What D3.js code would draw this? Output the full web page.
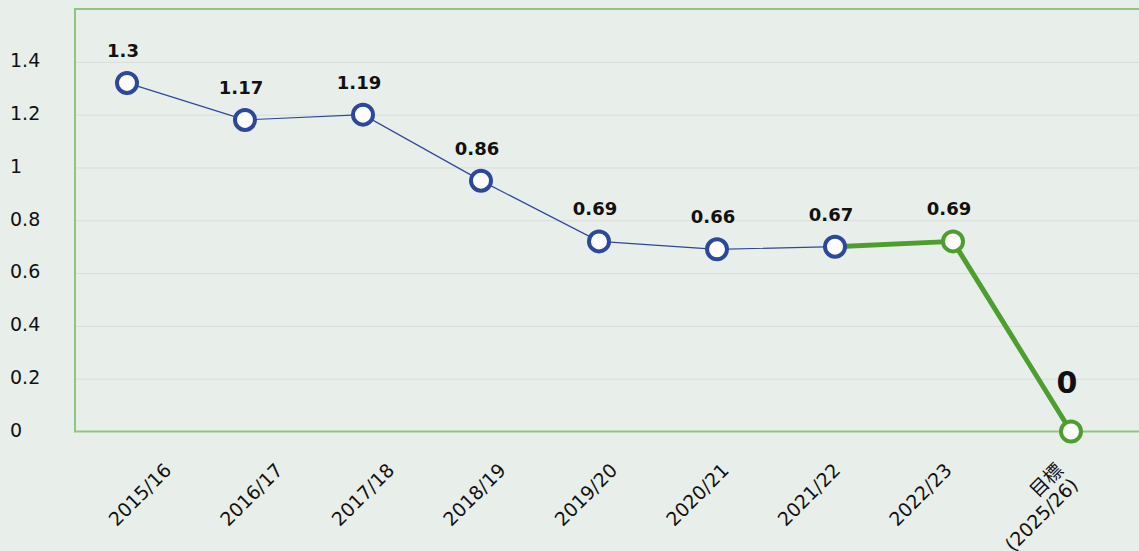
<html>

<head>
  <meta charset="utf-8">
  <title>line chart</title>
  <style>
    body { margin: 0; background: #e8efea; }
    text { font-family: "DejaVu Sans", sans-serif; fill: #111; }
  </style>
</head>

<body>
  <script src="https://d3js.org/d3.v7.min.js"></script>
  <script>
    // data
    var categories = ["2015/16", "2016/17", "2017/18", "2018/19", "2019/20", "2020/21", "2021/22", "2022/23", "目標\n(2025/26)"];
    var values = [1.32, 1.18, 1.2, 0.95, 0.72, 0.69, 0.7, 0.72, 0];
    var valueLabels = ["1.3", "1.17", "1.19", "0.86", "0.69", "0.66", "0.67", "0.69", "0"];
    var yTicks = [0, 0.2, 0.4, 0.6, 0.8, 1, 1.2, 1.4];
    var greenFrom = 6; // last actual year and the target are drawn in green

    var W = 1139, H = 551;
    var margin = { top: 9, right: -6, bottom: 119.5, left: 75 };
    var width = W - margin.left - margin.right;
    var height = H - margin.top - margin.bottom;

    var svg = d3.select("body")
      .append("svg")
      .attr("width", W)
      .attr("height", H);

    svg.append("rect")
      .attr("width", W)
      .attr("height", H)
      .attr("fill", "#e8efea");

    var g = svg.append("g")
      .attr("transform", "translate(" + margin.left + "," + margin.top + ")");

    var y = d3.scaleLinear()
      .domain([0, 1.6])
      .range([height, 0]);

    var x = d3.scalePoint()
      .domain(categories)
      .range([127 - margin.left, 1071 - margin.left]);

    // tick labels sit on their own spacing in the original
    var xLabel = d3.scalePoint()
      .domain(categories)
      .range([172 - margin.left, 1064 - margin.left]);

    // grid
    var yGrid = d3.axisLeft(y).tickValues(yTicks.filter(function (d) { return d > 0; }))
      .tickSize(-width).tickFormat("");
    g.append("g")
      .attr("class", "grid")
      .call(yGrid)
      .call(function (s) {
        s.select(".domain").remove();
        s.selectAll("line").attr("stroke", "#d9dcd9").attr("stroke-width", 1);
      });

    // plot frame
    g.append("rect")
      .attr("x", 0)
      .attr("y", 0)
      .attr("width", width)
      .attr("height", height)
      .attr("fill", "none")
      .attr("stroke", "#8ec580")
      .attr("stroke-width", 2);

    // y axis labels
    var yAxis = d3.axisLeft(y).tickValues(yTicks).tickSize(0).tickFormat(d3.format("~g"));
    g.append("g")
      .attr("class", "y axis")
      .call(yAxis)
      .call(function (s) {
        s.select(".domain").remove();
        s.selectAll("text")
          .attr("x", 10 - margin.left)
          .attr("dy", "0.25em")
          .attr("text-anchor", "start")
          .style("font-family", "DejaVu Sans")
          .style("font-size", "19px")
          .attr("fill", "#111");
      });

    // x axis labels
    var xAxis = d3.axisBottom(xLabel).tickSize(0).tickFormat("");
    var xg = g.append("g")
      .attr("class", "x axis")
      .attr("transform", "translate(0," + height + ")")
      .call(xAxis);
    xg.select(".domain").remove();
    xg.selectAll(".tick text").each(function (d) {
      var t = d3.select(this)
        .attr("y", 0)
        .attr("dy", null)
        .attr("transform", "translate(0,40) rotate(-45)")
        .attr("text-anchor", "end")
        .style("font-family", "DejaVu Sans, Noto Sans CJK JP")
        .style("font-size", "19px")
        .attr("fill", "#111");
      d.split("\n").forEach(function (line, i) {
        t.append("tspan")
          .attr("x", 0)
          .attr("dy", i === 0 ? 0 : "1.1em")
          .text(line);
      });
    });

    // lines
    var line = d3.line()
      .x(function (d) { return x(d.cat); })
      .y(function (d) { return y(d.value); });

    var points = categories.map(function (c, i) {
      return { cat: c, value: values[i], label: valueLabels[i], i: i };
    });

    g.append("path")
      .datum(points.slice(0, greenFrom + 1))
      .attr("d", line)
      .attr("fill", "none")
      .attr("stroke", "#2d479b")
      .attr("stroke-width", 1.2);

    g.append("path")
      .datum(points.slice(greenFrom))
      .attr("d", line)
      .attr("fill", "none")
      .attr("stroke", "#4e9e2f")
      .attr("stroke-width", 5)
      .attr("stroke-linejoin", "round");

    // markers
    g.selectAll(".dot")
      .data(points)
      .enter()
      .append("circle")
      .attr("class", "dot")
      .attr("cx", function (d) { return x(d.cat); })
      .attr("cy", function (d) { return y(d.value); })
      .attr("r", 10)
      .attr("fill", "#fff")
      .attr("stroke", function (d) { return d.i > greenFrom ? "#4e9e2f" : "#2d479b"; })
      .attr("stroke-width", 4);

    // value labels
    g.selectAll(".vlabel")
      .data(points)
      .enter()
      .append("text")
      .attr("class", "vlabel")
      .attr("x", function (d) { return x(d.cat) - 4; })
      .attr("y", function (d) { return y(d.value) - (d.i === points.length - 1 ? 39 : 26); })
      .attr("text-anchor", "middle")
      .style("font-weight", "bold")
      .style("font-size", function (d) { return d.i === points.length - 1 ? "30px" : "18px"; })
      .text(function (d) { return d.label; });
  </script>
</body>

</html>
